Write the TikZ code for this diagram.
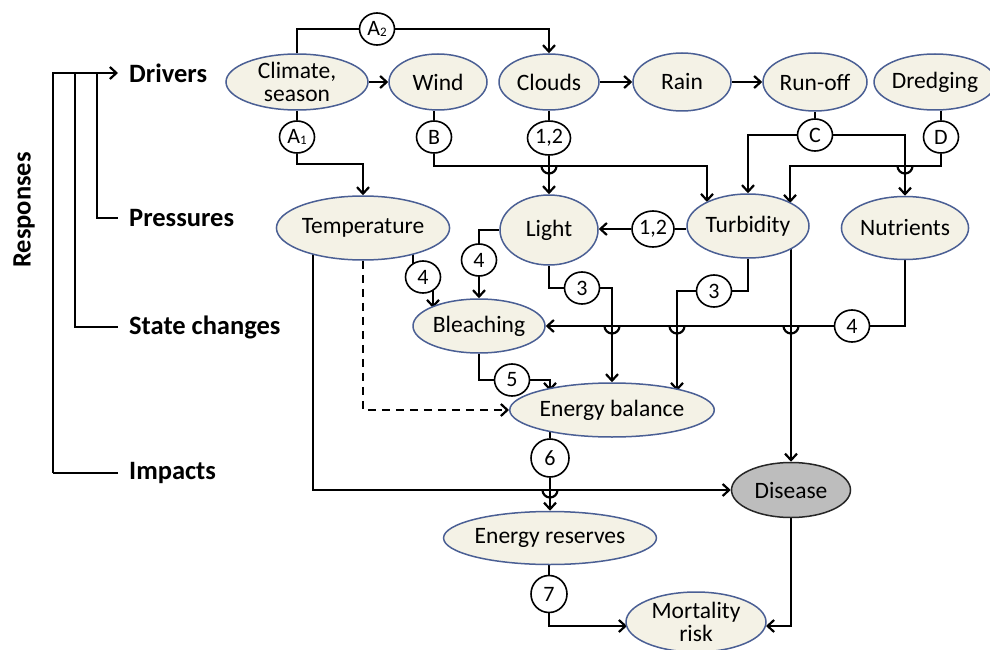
\documentclass[tikz,border=0pt]{standalone}
\usepackage{fontspec}
\setmainfont{Carlito}
\usetikzlibrary{shapes.geometric,arrows.meta,backgrounds}
\definecolor{efill}{HTML}{F4F2E6}
\definecolor{eline}{HTML}{4A5F94}
\definecolor{dfill}{HTML}{BDBDBD}
\pgfdeclarelayer{bgzero}
\pgfsetlayers{bgzero,background,main}
\tikzset{
  ev/.style={ellipse, draw=eline, line width=1.5pt, fill=efill, inner sep=0pt,
    font=\fontsize{23.5}{23}\selectfont, align=center},
  dis/.style={ev, draw=black!85, fill=dfill},
  lab/.style={ellipse, draw=black, line width=1.6pt, fill=white, inner sep=0pt,
    minimum width=35pt, minimum height=32pt, font=\fontsize{22}{22}\selectfont},
  lbl/.style={inner sep=0pt, font=\fontsize{26.5}{26.5}\selectfont\bfseries},
  conn/.style={line width=2.2pt},
  arr/.style={conn, -{Straight Barb[length=6.5pt,width=12pt]}},
}
\newcommand\hop[2]{\draw[conn] (#1-7.5,#2) arc[start angle=180,end angle=0,radius=7.5];}
\begin{document}
\begin{tikzpicture}[x=1pt,y=-1pt]
\begin{pgfonlayer}{bgzero}
\fill[white] (0,0) rectangle (990,650);
\end{pgfonlayer}
\useasboundingbox (0,0) rectangle (990,650);
% ellipses
\node[ev, minimum width=142pt, minimum height=56pt] (clim) at (297,82) {Climate,\\season};
\node[ev, minimum width=98pt, minimum height=56pt] (wind) at (438,82) {Wind};
\node[ev, minimum width=100pt, minimum height=56pt] (clouds) at (549,82) {Clouds};
\node[ev, minimum width=98pt, minimum height=58pt] (rain) at (682,82) {Rain};
\node[ev, minimum width=104pt, minimum height=58pt] (runoff) at (815,82) {Run-off};
\node[ev, minimum width=108pt, minimum height=56pt] (dredg) at (935,82) {Dredging};
\node[ev, minimum width=140pt, minimum height=64pt] (temp) at (363,228) {Temperature};
\node[ev, minimum width=98pt, minimum height=70pt] (light) at (549,230) {Light};
\node[ev, minimum width=122pt, minimum height=64pt] (turb) at (748,226) {Turbidity};
\node[ev, minimum width=121pt, minimum height=63pt] (nutr) at (905,228) {Nutrients};
\node[ev, minimum width=132pt, minimum height=54pt] (bleach) at (479,326) {Bleaching};
\node[ev, minimum width=180pt, minimum height=54pt] (eb) at (612,410) {Energy balance};
\node[dis, minimum width=119pt, minimum height=55pt] (disease) at (791,490) {Disease};
\node[ev, minimum width=182pt, minimum height=53pt] (er) at (550,538) {Energy reserves};
\node[ev, minimum width=140pt, minimum height=60pt] (mort) at (696,622) {Mortality\\risk};
% label circles
\node[lab] (a2) at (377,29) {A\raisebox{-1pt}{\fontsize{13}{13}\selectfont 2}};
\node[lab] (a1) at (297,137) {A\raisebox{-1pt}{\fontsize{13}{13}\selectfont 1}};
\node[lab] (b) at (434,137) {B};
\node[lab, minimum width=43pt, minimum height=34pt] (c12a) at (549,138) {1,2};
\node[lab] (c) at (815,135) {C};
\node[lab] (d) at (941,137) {D};
\node[lab, minimum width=42pt, minimum height=36pt] (c12b) at (653,229) {1,2};
\node[lab] (t4) at (423,277) {4};
\node[lab] (l4) at (479,260) {4};
\node[lab] (l3) at (582,288) {3};
\node[lab] (t3) at (714,291) {3};
\node[lab] (n4) at (852,326) {4};
\node[lab] (b5) at (512,380) {5};
\node[lab, minimum width=38pt, minimum height=38pt] (e6) at (550,458) {6};
\node[lab, minimum width=36pt, minimum height=37pt] (r7) at (549,594) {7};
% left labels
\node[lbl, anchor=west] (ldrv) at (129,73) {Drivers};
\node[lbl, anchor=west] (lprs) at (129,218) {Pressures};
\node[lbl, anchor=west] (lsta) at (129,327) {State changes};
\node[lbl, anchor=west] (limp) at (129,473) {Impacts};
\node[lbl, rotate=90] (lresp) at (24,210) {Responses};
\coordinate (kd) at (118,73);
\coordinate (kp) at (118,218);
\coordinate (ks) at (118,327);
\coordinate (ki) at (118,473);
\begin{pgfonlayer}{background}
% bracket
\draw[arr] (53,473) -- (53,73) -- (kd);
\draw[conn] (ki) -- (53,473);
\draw[conn] (75,73) -- (75,327) -- (ks);
\draw[conn] (97,73) -- (97,218) -- (kp);
% drivers row
\draw[arr] (clim.north) |- (a2) -| (clouds.north);
\draw[arr] (clim) -- (wind);
\draw[arr] (clouds) -- (rain);
\draw[arr] (rain) -- (runoff);
% A1
\draw[conn] (clim.south) -- (a1);
\draw[arr] (a1) |- (363,164) -- (temp.north);
% B
\draw[conn] (b |- wind.south) -- (b);
\draw[arr] (b) |- (707,166) -- (707,202);
% clouds 1,2
\draw[conn] (clouds.south) -- (c12a);
\draw[arr] (c12a) -- (light.north);
\hop{549}{166}
% C
\draw[conn] (runoff.south) -- (c);
\draw[arr] (c) -| (turb.north);
\draw[arr] (c) -| (nutr.north);
\hop{905}{166}
% D
\draw[conn] (d |- dredg.south) -- (d);
\draw[arr] (d) |- (790,166) -- (790,203);
% turbidity -> light
\draw[conn] (c12b) -- (c12b -| turb.west);
\draw[arr] (c12b) -- (c12b -| light.east);
% temperature -> 4 -> bleaching
\draw[conn] (413,250) -- (413,277);
\draw[arr] (433,277) -- (433,308);
% light -> 4 -> bleaching
\draw[arr] (light.west) -| (bleach.north);
% light -> 3 -> eb
\draw[arr] (light.south) |- (l3) -| (eb.north);
\hop{612}{326}
% turbidity -> 3 -> eb
\draw[arr] (turb.south) |- (t3) -| (677,391);
\hop{677}{326}
% turbidity -> disease
\draw[arr] (791,248) -- (disease.north);
\hop{791}{326}
% nutrients -> 4 -> bleaching
\draw[conn] (nutr.south) |- (n4);
\draw[arr] (n4) -- (n4 -| bleach.east);
% bleaching -> 5 -> eb
\draw[arr] (bleach.south) |- (b5) -| (550,391);
% dashed temperature -> eb
\draw[arr, dash pattern=on 8pt off 6pt] (temp.south) |- (eb.west);
% temperature -> disease
\draw[arr] (313,250) |- (disease.west);
\hop{550}{490}
% eb -> 6 -> er
\draw[conn] (550,429) -- (e6);
\draw[arr] (e6) -- (er.north);
% er -> 7 -> mortality
\draw[conn] (r7 |- er.south) -- (r7);
\draw[arr] (r7) |- (627,626);
% disease -> mortality
\draw[arr] (disease.south) |- (766,626);
\end{pgfonlayer}
\end{tikzpicture}
\end{document}
